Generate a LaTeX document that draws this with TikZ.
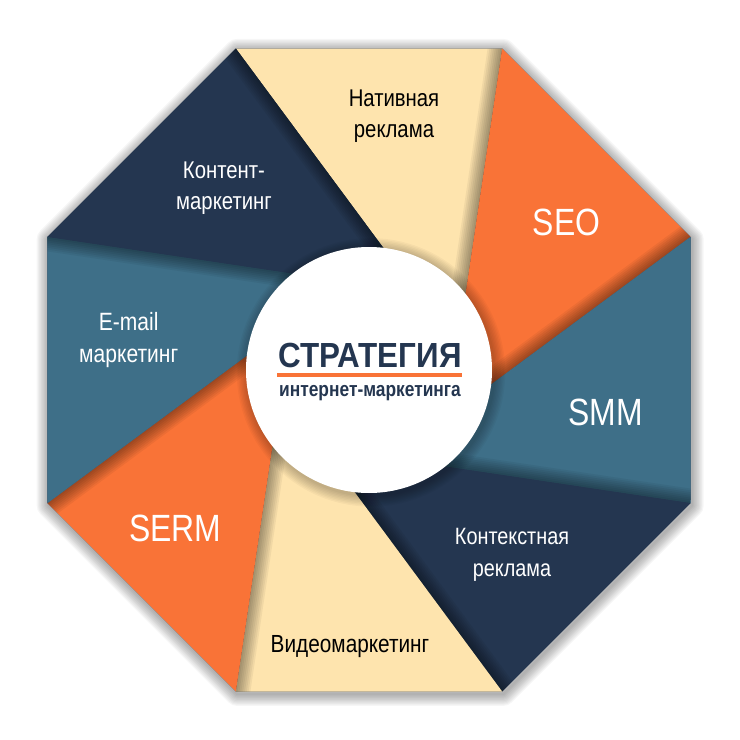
\documentclass[tikz,border=0pt]{standalone}
\usepackage{fontspec}
\setmainfont[FakeStretch=0.84]{Liberation Sans}
\newfontfamily\titlefont[FakeStretch=0.9]{Liberation Sans}
\usetikzlibrary{calc}

\definecolor{navy}{HTML}{243650}
\definecolor{steel}{HTML}{3E6F88}
\definecolor{carrot}{HTML}{F97337}
\definecolor{sand}{HTML}{FEE4AE}

\begin{document}
\begin{tikzpicture}
  \useasboundingbox (-9.225,-9.25) rectangle (9.275,9.25);
  % soft shadow round the octagon
  \foreach \w in {1,...,10}
    \draw[black, opacity=0.035, line width=\w*0.06cm, line join=round, shift={(0.03,-0.06)}]
      (112.5:8.7) \foreach \a in {1,...,7} {-- (112.5-45*\a:8.7)} -- cycle;
  \fill[navy] (112.5:8.7) \foreach \a in {1,...,7} {-- (112.5-45*\a:8.7)} -- cycle;
  % corners and the inner ends of the cuts
  \foreach \i in {1,...,8} {
    \coordinate (v\i) at (157.5-45*\i:8.7);
    \coordinate (q\i) at ($(v\i)!0.97!14:(0,0)$);
  }
  % the eight blades
  \foreach \i/\col in {1/sand,2/carrot,3/steel,4/navy,5/sand,6/carrot,7/steel,8/navy} {
    \pgfmathtruncatemacro\j{mod(\i,8)+1}
    \fill[\col] (v\i) -- (v\j) -- (q\j) -- (q\i) -- cycle;
    \begin{scope}
      \clip (v\i) -- (v\j) -- (q\j) -- (q\i) -- cycle;
      \foreach \w in {1,...,8}
        \draw[black, opacity=0.05, line width=\w*0.09cm] (v\j) -- (q\j);
    \end{scope}
  }
  % centre disc
  \foreach \r in {1,...,8}
    \fill[black, opacity=0.03] (0.05,-0.06) circle (3.075+\r*0.035);
  \node[circle, fill=white, minimum size=6.15cm, inner sep=0pt] (hub) at (0,0) {};
  \node[font=\titlefont\bfseries\fontsize{24.8}{28}\selectfont, text=navy, anchor=base] (title) at (0.025,0.075) {СТРАТЕГИЯ};
  \node[fill=carrot, minimum width=4.625cm, minimum height=0.11cm, inner sep=0pt] (bar) at (0.0125,-0.125) {};
  \node[font=\bfseries\fontsize{14.7}{17}\selectfont, text=navy, anchor=base] (subtitle) at (0.025,-0.67) {интернет-маркетинга};
  % labels
  \begin{scope}[every node/.style={align=center, inner sep=0pt, anchor=north, font=\fontsize{17.2}{22}\selectfont}]
    \node[text=black] (native) at (0.625,7.0) {Нативная\\реклама};
    \node[text=white] (content) at (-3.625,5.2075) {Контент-\\маркетинг};
    \node[text=white, font=\fontsize{17.8}{22.5}\selectfont] (email) at (-6.0075,1.4425) {E-mail\\маркетинг};
    \node[text=white, font=\fontsize{16.8}{23}\selectfont] (context) at (3.575,-3.9425) {Контекстная\\реклама};
  \end{scope}
  \begin{scope}[every node/.style={text=white, anchor=base, font=\fontsize{27}{30}\selectfont}]
    \node (seo) at (4.94,3.375) {SEO};
    \node (smm) at (5.92,-1.375) {SMM};
    \node (serm) at (-4.84,-4.275) {SERM};
  \end{scope}
  \node[anchor=base, font=\fontsize{17.6}{21}\selectfont] (video) at (-0.475,-7.07) {Видеомаркетинг};
\end{tikzpicture}
\end{document}
